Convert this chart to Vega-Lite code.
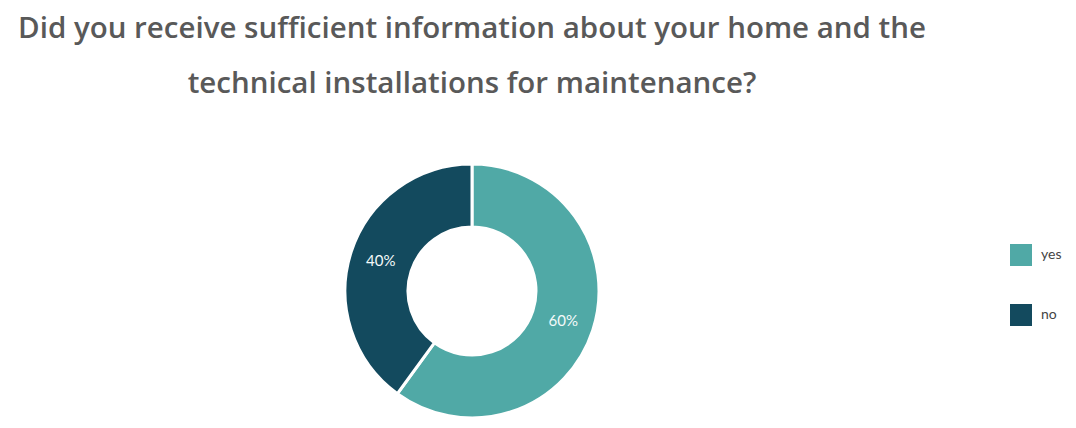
{
  "$schema": "https://vega.github.io/schema/vega-lite/v6.json",
  "width": 944,
  "height": 274,
  "padding": {"left": 0, "top": 13, "right": 0, "bottom": 0},
  "background": "white",
  "config": {"view": {"stroke": null}},
  "title": {
    "text": ["Did you receive sufficient information about your home and the", "technical installations for maintenance?"],
    "font": "Open Sans",
    "fontSize": 29.5,
    "fontWeight": 600,
    "color": "#595959",
    "lineHeight": 55,
    "anchor": "middle",
    "frame": "group",
    "offset": 55
  },
  "data": {
    "values": [
      {"answer": "yes", "value": 60, "label": "60%"},
      {"answer": "no", "value": 40, "label": "40%"}
    ]
  },
  "encoding": {
    "theta": {"field": "value", "type": "quantitative", "stack": true},
    "order": {"field": "value", "type": "quantitative", "sort": "descending"}
  },
  "layer": [
    {
      "mark": {"type": "arc", "outerRadius": 127, "innerRadius": 64, "stroke": "white", "strokeWidth": 3},
      "encoding": {
        "color": {
          "field": "answer",
          "type": "nominal",
          "scale": {"domain": ["yes", "no"], "range": ["#50a9a6", "#134a5e"]},
          "legend": {
            "title": null,
            "orient": "none",
            "legendX": 1010,
            "legendY": 90,
            "symbolType": "square",
            "symbolSize": 484,
            "symbolStrokeWidth": 0,
            "rowPadding": 38,
            "labelFont": "Lato",
            "labelFontSize": 14,
            "labelColor": "#444444",
            "labelOffset": 9
          }
        }
      }
    },
    {
      "mark": {"type": "text", "radius": 96, "font": "Lato", "fontSize": 15, "fontWeight": "normal", "color": "#f4fafa"},
      "encoding": {
        "text": {"field": "label", "type": "nominal"}
      }
    }
  ]
}
